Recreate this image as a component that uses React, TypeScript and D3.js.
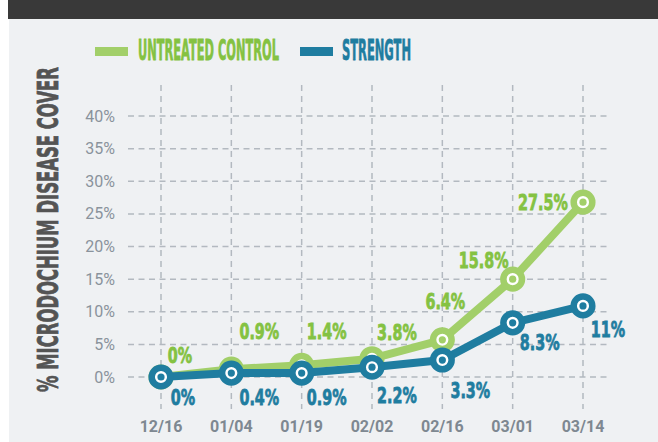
import React from "react";
import * as d3 from "d3";

const dates = ["12/16", "01/04", "01/19", "02/02", "02/16", "03/01", "03/14"];
const controlValues = [0, 1.2, 1.8, 2.8, 5.7, 15.0, 26.8];
const strengthValues = [0, 0.6, 0.6, 1.5, 2.6, 8.3, 10.9];
const controlLabels = ["0%", "0.9%", "1.4%", "3.8%", "6.4%", "15.8%", "27.5%"];
const strengthLabels = ["0%", "0.4%", "0.9%", "2.2%", "3.3%", "8.3%", "11%"];
const yTicks = [0, 5, 10, 15, 20, 25, 30, 35, 40];
const seriesNames = ["UNTREATED CONTROL", "STRENGTH"];

// label placement offsets (layout only)
const controlLabelOffsets: [number, number][] = [[19, -22], [28, -38], [25, -34], [25, -26], [3, -38], [-29, -19], [-40, 0]];
const strengthLabelOffsets: [number, number][] = [[22, 20], [28, 24], [25, 24], [25, 28], [28, 30], [27, 20], [25, 24]];

const W = 658, H = 442;
const GREEN_LINE = "#a2cf69";
const GREEN_TEXT = "#84c242";
const BLUE = "#1f7da0";
const BG = "#eff1f3";
const HEAVY = "'DejaVu Sans', sans-serif";

export default function App() {
  const x = d3.scalePoint<string>().domain(dates).range([161, 583]).padding(0);
  const y = d3.scaleLinear().domain([0, 40]).range([377, 116]);
  const line = d3.line<number>().x((_, i) => x(dates[i])!).y((d) => y(d));

  const labelFont = { fontFamily: HEAVY, fontWeight: 700, fontSize: 20.5 };

  const marker = (cx: number, cy: number, color: string, key: string) => (
    <g key={key}>
      <circle cx={cx} cy={cy} r={9.3} fill="#ffffff" stroke={color} strokeWidth={6.5} />
      <circle cx={cx} cy={cy} r={3.6} fill={color} />
    </g>
  );

  const label = (text: string, cx: number, cy: number, color: string, key: string) => (
    <text
      key={key}
      transform={`translate(${cx},${cy + 7.5}) scale(0.7,1)`}
      textAnchor="middle"
      fill={color}
      stroke={color}
      strokeWidth={0.8}
      style={labelFont}
    >
      {text}
    </text>
  );

  return (
    <svg width={W} height={H} style={{ position: "absolute", left: 0, top: 0 }}>
      <rect x={0} y={0} width={W} height={H} fill="#ffffff" />
      <rect x={9} y={0} width={W - 9} height={H} fill={BG} />
      <rect x={8} y={0} width={W - 8} height={19} fill="#393939" />

      {/* legend */}
      <rect x={95} y={47} width={33} height={9} fill={GREEN_LINE} />
      <text x={138} y={60} textLength={141} lengthAdjust="spacingAndGlyphs"
        fill={GREEN_TEXT} stroke={GREEN_TEXT} strokeWidth={0.8}
        style={{ fontFamily: HEAVY, fontWeight: 700, fontSize: 27.5 }}>
        {seriesNames[0]}
      </text>
      <rect x={300} y={47} width={33} height={9} fill={BLUE} />
      <text x={342} y={60} textLength={69} lengthAdjust="spacingAndGlyphs"
        fill={BLUE} stroke={BLUE} strokeWidth={0.8}
        style={{ fontFamily: HEAVY, fontWeight: 700, fontSize: 27.5 }}>
        {seriesNames[1]}
      </text>

      {/* y title */}
      <text transform="translate(58,392) rotate(-90)" textLength={325} lengthAdjust="spacingAndGlyphs"
        fill="#545454" stroke="#545454" strokeWidth={0.8}
        style={{ fontFamily: HEAVY, fontWeight: 700, fontSize: 27.5 }}>
        % MICRODOCHIUM DISEASE COVER
      </text>

      {/* grid */}
      {yTicks.map((t) => (
        <line key={"h" + t} x1={128} x2={611} y1={y(t)} y2={y(t)} stroke="#b3b9c0" strokeWidth={1.5} strokeDasharray="6,4.5" />
      ))}
      {dates.map((d) => (
        <line key={"v" + d} x1={x(d)} x2={x(d)} y1={85} y2={409} stroke="#b3b9c0" strokeWidth={1.5} strokeDasharray="6,5" />
      ))}

      {/* y tick labels */}
      {yTicks.map((t) => (
        <text key={"yt" + t} x={115} y={y(t) + 5.5} textAnchor="end" fill="#8a939c"
          style={{ fontFamily: "Roboto, sans-serif", fontSize: 16 }}>
          {t + "%"}
        </text>
      ))}

      {/* x tick labels */}
      {dates.map((d) => (
        <text key={"xt" + d} x={x(d)} y={432} textAnchor="middle" fill="#7e8891"
          style={{ fontFamily: "Roboto, sans-serif", fontWeight: 700, fontSize: 16 }}>
          {d}
        </text>
      ))}

      {/* control series */}
      <path d={line(controlValues)!} fill="none" stroke={GREEN_LINE} strokeWidth={8} strokeLinejoin="round" />
      {controlValues.map((v, i) => marker(x(dates[i])!, y(v), GREEN_LINE, "gm" + i))}

      {/* strength series */}
      <path d={line(strengthValues)!} fill="none" stroke={BLUE} strokeWidth={8} strokeLinejoin="round" />
      {strengthValues.map((v, i) => marker(x(dates[i])!, y(v), BLUE, "bm" + i))}

      {/* data labels */}
      {controlLabels.map((t, i) =>
        label(t, x(dates[i])! + controlLabelOffsets[i][0], y(controlValues[i]) + controlLabelOffsets[i][1], GREEN_TEXT, "gl" + i)
      )}
      {strengthLabels.map((t, i) =>
        label(t, x(dates[i])! + strengthLabelOffsets[i][0], y(strengthValues[i]) + strengthLabelOffsets[i][1], BLUE, "bl" + i)
      )}
    </svg>
  );
}
